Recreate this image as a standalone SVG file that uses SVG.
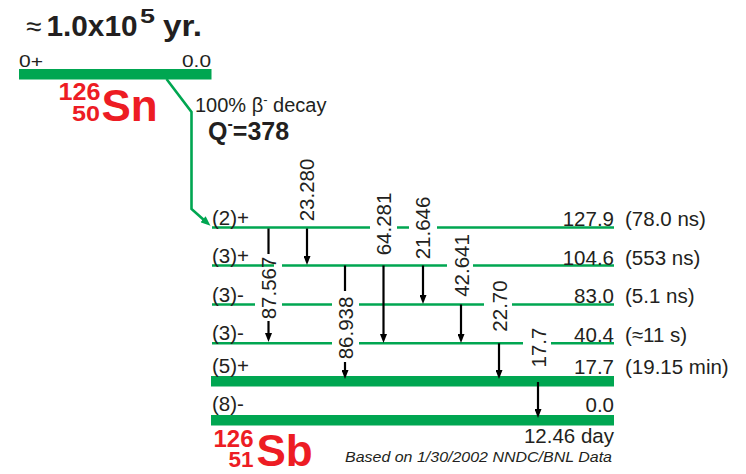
<svg xmlns="http://www.w3.org/2000/svg" width="746" height="474" viewBox="0 0 746 474">
<defs>
<style>
text{font-family:"Liberation Sans",Arial,sans-serif;fill:#231f20}
.t{font-size:20.5px}
.g{font-size:20.5px}
.red{fill:#ed1c24;font-weight:bold}
.lvl{stroke:#00a651;stroke-width:2.6;fill:none}
.bar{fill:#00a651}
.tr{stroke:#000;stroke-width:2.2;fill:none}
.arr{stroke:#000;stroke-width:2.2;fill:none;marker-end:url(#ah)}
</style>
<marker id="ah" viewBox="0 0 9 7" refX="2" refY="3.5" markerWidth="9" markerHeight="7" markerUnits="userSpaceOnUse" orient="auto">
<path d="M0,0 L9,3.5 L0,7 z" fill="#000"/>
</marker>
<marker id="gah" viewBox="0 0 10 8" refX="2" refY="4" markerWidth="10" markerHeight="8" markerUnits="userSpaceOnUse" orient="auto">
<path d="M0,0 L10,4 L0,8 z" fill="#00a651"/>
</marker>
</defs>
<rect width="746" height="474" fill="#fff"/>

<g id="title">
<text x="26" y="36" style="font-size:28px">≈</text>
<text x="46.5" y="36" style="font-size:29px;font-weight:bold" textLength="91" lengthAdjust="spacingAndGlyphs">1.0x10</text>
<text x="140" y="23" style="font-size:21px;font-weight:bold" textLength="15" lengthAdjust="spacingAndGlyphs">5</text>
<text x="163" y="36" style="font-size:29px;font-weight:bold" textLength="39" lengthAdjust="spacingAndGlyphs">yr.</text>
</g>

<g id="parent-Sn126">
<rect class="bar" x="19" y="69" width="192.5" height="10.5"/>
<text x="19" y="66.5" style="font-size:16.5px" textLength="24" lengthAdjust="spacingAndGlyphs">0+</text>
<text x="211" y="66.5" style="font-size:16.5px" text-anchor="end" textLength="29" lengthAdjust="spacingAndGlyphs">0.0</text>
<text class="red"><tspan x="58.5" y="100" style="font-size:23px" textLength="42" lengthAdjust="spacingAndGlyphs">126</tspan><tspan x="72" y="120.5" style="font-size:22px" textLength="28" lengthAdjust="spacingAndGlyphs">50</tspan><tspan x="101.5" y="120.5" style="font-size:44px">Sn</tspan></text>
</g>

<g id="decay-label">
<text x="195" y="111.5" style="font-size:20px">100% β<tspan style="font-size:13px" dy="-8">-</tspan><tspan dy="8"> decay</tspan></text>
<text x="208" y="140" style="font-size:25px;font-weight:bold">Q<tspan style="font-size:16px" dy="-11">-</tspan><tspan dy="11">=378</tspan></text>
</g>

<g id="levels">
<g id="lvl-127.9">
<path class="lvl" d="M212,227.5 H370 M397,227.5 H409 M437,227.5 H614"/>
<text class="t" x="212" y="225">(2)+</text>
<text class="t" x="614" y="226" text-anchor="end">127.9</text>
<text class="t" x="625" y="226">(78.0 ns)</text>
</g>
<g id="lvl-104.6">
<path class="lvl" d="M212,265.5 H274 M282,265.5 H447 M473,265.5 H614"/>
<text class="t" x="212" y="263">(3)+</text>
<text class="t" x="614" y="264.5" text-anchor="end">104.6</text>
<text class="t" x="625" y="264.5">(553 ns)</text>
</g>
<g id="lvl-83.0">
<path class="lvl" d="M212,304.5 H255 M282,304.5 H332 M359,304.5 H484 M512,304.5 H614"/>
<text class="t" x="212" y="301.5">(3)-</text>
<text class="t" x="614" y="303" text-anchor="end">83.0</text>
<text class="t" x="625" y="303">(5.1 ns)</text>
</g>
<g id="lvl-40.4">
<path class="lvl" d="M212,343.3 H332 M359,343.3 H523 M551,343.3 H614"/>
<text class="t" x="212" y="340">(3)-</text>
<text class="t" x="614" y="341.5" text-anchor="end">40.4</text>
<text class="t" x="625" y="341.5">(≈11 s)</text>
</g>
<g id="lvl-17.7">
<rect class="bar" x="211" y="376" width="403" height="10.5"/>
<text class="t" x="212" y="373">(5)+</text>
<text class="t" x="614" y="373.5" text-anchor="end">17.7</text>
<text class="t" x="625" y="373.5">(19.15 min)</text>
</g>
<g id="lvl-0.0">
<rect class="bar" x="211" y="415" width="403" height="10.5"/>
<text class="t" x="212" y="411">(8)-</text>
<text class="t" x="614" y="412" text-anchor="end">0.0</text>
<text class="t" x="614" y="443" text-anchor="end">12.46 day</text>
</g>
</g>

<g id="daughter-Sb126">
<text class="red"><tspan x="213.5" y="446.5" style="font-size:23px" textLength="40" lengthAdjust="spacingAndGlyphs">126</tspan><tspan x="228.5" y="466.5" style="font-size:22px" textLength="25" lengthAdjust="spacingAndGlyphs">51</tspan><tspan x="256.5" y="466" style="font-size:44px">Sb</tspan></text>
</g>

<text x="612" y="461.5" style="font-size:14.5px;font-style:italic" text-anchor="end" textLength="267" lengthAdjust="spacingAndGlyphs">Based on 1/30/2002 NNDC/BNL Data</text>

<g id="connectors">
<path d="M166.5,79 L191.5,112 L191.5,209 L204.5,220.5" stroke="#00a651" stroke-width="2.6" fill="none" stroke-linejoin="miter" marker-end="url(#gah)"/>

<g id="t87.567">
<path class="tr" d="M268.5,228.5 V254"/>
<path class="arr" d="M268.5,321 V335"/>
<text class="g" transform="translate(269,288) rotate(-90)" y="7" text-anchor="middle">87.567</text>
</g>
<g id="t23.280">
<path class="arr" d="M307,228.5 V258"/>
<text class="g" transform="translate(306.5,190) rotate(-90)" y="7" text-anchor="middle">23.280</text>
</g>
<g id="t64.281">
<path class="arr" d="M383.5,265.5 V336"/>
<text class="g" transform="translate(383.5,224) rotate(-90)" y="7" text-anchor="middle">64.281</text>
</g>
<g id="t21.646">
<path class="arr" d="M423,265.5 V297"/>
<text class="g" transform="translate(422.5,228) rotate(-90)" y="7" text-anchor="middle">21.646</text>
</g>
<g id="t42.641">
<path class="arr" d="M461,304.5 V336"/>
<text class="g" transform="translate(461.5,265.5) rotate(-90)" y="7" text-anchor="middle">42.641</text>
</g>
<g id="t86.938">
<path class="tr" d="M345,265.5 V291"/>
<path class="arr" d="M345,362 V372"/>
<text class="g" transform="translate(346,328) rotate(-90)" y="7" text-anchor="middle">86.938</text>
</g>
<g id="t22.70">
<path class="arr" d="M499,343.3 V372"/>
<text class="g" transform="translate(500,306) rotate(-90)" y="7" text-anchor="middle">22.70</text>
</g>
<g id="t17.7">
<path class="arr" d="M538,382 V411"/>
<text class="g" transform="translate(538.5,347.5) rotate(-90)" y="7" text-anchor="middle">17.7</text>
</g>
</g>
</svg>
